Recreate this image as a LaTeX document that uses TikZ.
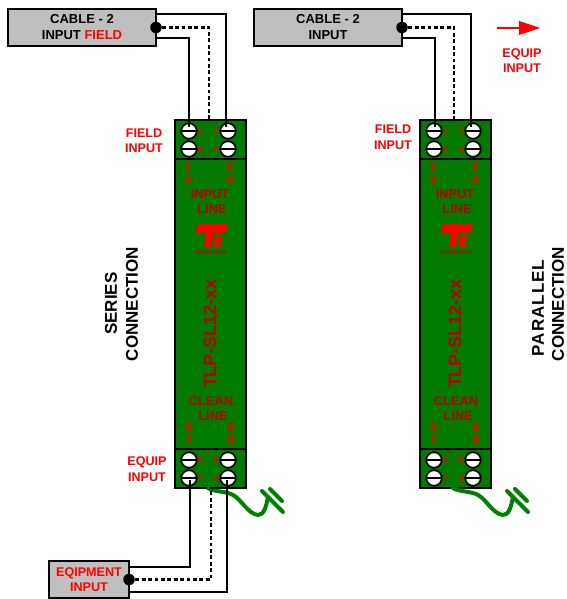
\documentclass[tikz,border=0pt]{standalone}
\usepackage{fontspec}
\setmainfont{Liberation Sans}
\definecolor{modgreen}{HTML}{007A00}
\definecolor{gndgreen}{HTML}{008000}
\definecolor{boxgray}{HTML}{BFBFBF}
\definecolor{redlab}{HTML}{FF0000}
\definecolor{darklab}{HTML}{B80000}
\definecolor{numlab}{HTML}{F00000}
\tikzset{
  x=1pt,y=-1pt,
  modbody/.style={draw=black,line width=1.8pt,fill=modgreen,minimum width=71pt,minimum height=368pt,inner sep=0pt,outer sep=0pt},
  termline/.style={draw=black,line width=1.5pt},
  screw/.style={circle,draw=black,fill=white,line width=1.7pt,minimum size=15.5pt,inner sep=0pt,outer sep=0pt,
    path picture={\draw[black,line width=1.3pt] (path picture bounding box.west) -- (path picture bounding box.east);}},
  smallnum/.style={text=numlab,font=\fontsize{8.5}{10}\bfseries\selectfont,inner sep=0pt},
  bignum/.style={text=numlab,font=\fontsize{12.5}{15}\bfseries\selectfont,inner sep=0pt},
  modtext/.style={text=darklab,font=\fontsize{12.8}{15.5}\bfseries\selectfont,inner sep=0pt,align=center},
  partno/.style={text=darklab,font=\fontsize{17.8}{20}\bfseries\selectfont,inner sep=0pt,rotate=90},
  sidelabel/.style={text=redlab,font=\fontsize{12.6}{15.5}\bfseries\selectfont,inner sep=0pt,align=center},
  blacklabel/.style={text=black,font=\fontsize{17}{20}\bfseries\selectfont,inner sep=0pt,align=center,rotate=90},
  cablebox/.style={draw=black,line width=1.6pt,fill=boxgray,inner sep=0pt,outer sep=0pt,align=center,
    font=\fontsize{13}{16}\bfseries\selectfont,text=black},
  wire/.style={draw=black,line width=2pt,line join=miter},
  shieldwire/.style={draw=black,line width=2.2pt,dash pattern=on 3.8pt off 2.6pt},
  jointdot/.style={circle,fill=black,minimum size=11.5pt,inner sep=0pt,outer sep=0pt},
  gndwire/.style={draw=gndgreen,line width=4pt,line cap=round,line join=round},
  logored/.style={fill=redlab,draw=none},
  logotext/.style={text=darklab,font=\fontsize{5}{6}\bfseries\selectfont,inner sep=0pt},
}
\newcommand{\trmodule}[2]{%
\begin{scope}[xshift=#2pt,name prefix=#1-]
  \node[modbody] (body) at (210.5,304) {};
  \coordinate (divtop) at (175,159);
  \coordinate (divbot) at (175,449);
  \draw[termline] (divtop) -- (divtop -| body.east);
  \draw[termline] (divbot) -- (divbot -| body.east);
  \node[screw] (s1) at (189,131) {};
  \node[screw] (s2) at (228,131) {};
  \node[screw] (s3) at (189,149) {};
  \node[screw] (s4) at (228,149) {};
  \node[screw] (s5) at (189,460) {};
  \node[screw] (s6) at (228,460) {};
  \node[screw] (s7) at (189,478) {};
  \node[screw] (s8) at (228,478) {};
  \node[smallnum] (n1) at (200.5,131) {1};
  \node[smallnum] (n2) at (216,131) {2};
  \node[smallnum] (n3) at (200.5,150) {3};
  \node[smallnum] (n4) at (216,150) {4};
  \node[smallnum] (n5) at (200.5,460) {5};
  \node[smallnum] (n6) at (216,460) {6};
  \node[smallnum] (n7) at (201,479) {7};
  \node[smallnum] (n8) at (217,479) {8};
  \node[bignum] (b1) at (188,167) {1};
  \node[bignum] (b2) at (230,167) {2};
  \node[bignum] (b3) at (188,180) {3};
  \node[bignum] (b4) at (230,180) {4};
  \node[bignum] (b5) at (189,427) {5};
  \node[bignum] (b6) at (231,427) {6};
  \node[bignum] (b7) at (189,440) {7};
  \node[bignum] (b8) at (231,440) {8};
  \node[modtext] (il1) at (210,194) {INPUT};
  \node[modtext] (il2) at (212,209) {LINE};
  \node[modtext] (cl1) at (211,401) {CLEAN};
  \node[modtext] (cl2) at (213,416) {LINE};
  \node[partno] (pn) at (210,334) {TLP-SL12-xx};
  % logo
  \fill[logored] (199,224) -- (228,224) -- (225.5,233) -- (213.5,233) -- (211,247) -- (204,247) -- (206,233) -- (196,233) .. controls (195.5,230) and (197,226) .. (199,224) -- cycle;
  \fill[logored] (216.5,235) -- (220.5,235) -- (220,238) -- (223.5,238) -- (223,240.5) -- (219.6,240.5) -- (219,244.5) -- (222.5,244.5) -- (222,247) -- (214,247) -- (215.3,240.5) -- (213.5,240.5) -- (214,238) -- (216,238) -- cycle;
  \node[logotext] (lt) at (210.5,253) {TRANSTECH};
  % ground lead
  \draw[gndwire] (208,488) .. controls (214,492) and (226,491) .. (233,495)
     .. controls (241,499) and (248,514) .. (258,515)
     .. controls (264,515) and (266,507) .. (268,497);
  \draw[gndwire] (262,491) -- (283,512);
  \draw[gndwire] (270,489) -- (282,501);
\end{scope}}
\begin{document}
\begin{tikzpicture}
\useasboundingbox (0,0) rectangle (566,599);
\trmodule{A}{0}
\trmodule{B}{245}

% boxes
\node[cablebox,minimum width=148pt,minimum height=37pt] (cabA) at (82,27.5) {CABLE - 2\\INPUT \textcolor{redlab}{FIELD}};
\node[cablebox,minimum width=148pt,minimum height=37pt] (cabB) at (328,27.5) {CABLE - 2\\INPUT};
\node[cablebox,minimum width=80pt,minimum height=37pt,text=redlab,font=\fontsize{12.6}{15.5}\bfseries\selectfont] (equip) at (89,579.5) {EQIPMENT\\INPUT};

% box connection points
\coordinate (cabAt) at (156,14);
\coordinate (cabAb) at (156,38);
\coordinate (cabBt) at (402,14);
\coordinate (cabBb) at (402,38);
\coordinate (eqt) at (129,567);
\coordinate (eqb) at (129,592);
\coordinate (A-in1) at (189,127);
\coordinate (A-in2) at (226,127);
\coordinate (A-top) at (209,120);
\coordinate (B-in1) at (435,127);
\coordinate (B-in2) at (471,127);
\coordinate (B-top) at (454,120);
\coordinate (A-out1) at (190,480);
\coordinate (A-out2) at (227,480);
\coordinate (A-bot) at (211,488);

% wires
\draw[wire] (cabAt) -| (A-in2);
\draw[wire] (cabAb) -| (A-in1);
\draw[wire] (cabBt) -| (B-in2);
\draw[wire] (cabBb) -| (B-in1);
\draw[wire] (eqt) -| (A-out1);
\draw[wire] (eqb) -| (A-out2);

% shields
\node[jointdot] (dotA) at (cabA.east) {};
\node[jointdot] (dotB) at (cabB.east) {};
\node[jointdot] (dotE) at (equip.east) {};
\draw[shieldwire] (dotA.center) -| (A-top);
\draw[shieldwire] (dotB.center) -| (B-top);
\draw[shieldwire] (dotE.center) -| (A-bot);
\draw[shieldwire] (A-top) ++(-13,0) -- ++(27,0);
\draw[shieldwire] (B-top) ++(-13,0) -- ++(27,0);
\draw[shieldwire] (A-bot) ++(-14,0) -- ++(28,0);

% side labels
\node[sidelabel] (fiA) at (144,140.5) {FIELD\\INPUT};
\node[sidelabel] (fiB) at (393,137) {FIELD\\INPUT};
\node[sidelabel] (eiA) at (147,469) {EQUIP\\INPUT};
\node[sidelabel] (eiB) at (522,60.5) {EQUIP\\INPUT};

% legend arrow
\coordinate (arS) at (497,28);
\coordinate (arE) at (540,28);
\draw[redlab,line width=1.6pt] (arS) -- (519,28);
\fill[redlab] (arE) -- (519,21) -- (519,35) -- cycle;

% rotated titles
\node[blacklabel] (ser) at (111,303.5) {SERIES};
\node[blacklabel] (con1) at (132,304) {CONNECTION};
\node[blacklabel] (par) at (538,308) {\addfontfeature{LetterSpace=6}PARALLEL};
\node[blacklabel] (con2) at (558,304) {CONNECTION};
\end{tikzpicture}
\end{document}
